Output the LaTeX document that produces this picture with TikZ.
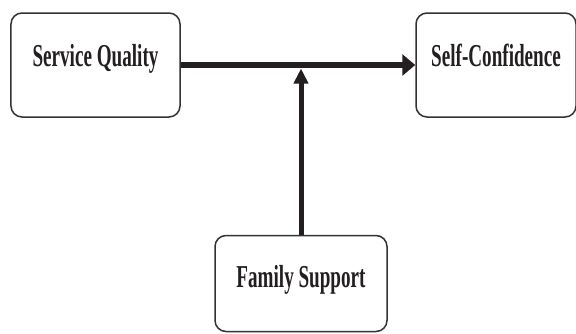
\documentclass[tikz,border=0pt]{standalone}
\usepackage{fontspec}
\setmainfont{Liberation Serif}[FakeStretch=0.6]
\usetikzlibrary{arrows.meta}
\definecolor{ink}{RGB}{35, 31, 32}
\definecolor{edge}{RGB}{50, 50, 50}

\begin{document}
\begin{tikzpicture}[x=1bp,y=-1bp,
	box/.style={draw=edge, line width=1.5bp, rounded corners=11bp, text=ink,
		font=\fontsize{32}{34}\selectfont\bfseries, inner sep=0pt,
		text height=22bp, text depth=19bp},
	link/.style={draw=ink, -{Triangle[length=13bp,width=21bp]}, line width=6.5bp},
	moder/.style={draw=ink, -{Triangle[length=15bp,width=14bp]}, line width=5bp}]
	\useasboundingbox (0,0) rectangle (576,333); % page du dessin
	\node[box, minimum width=169bp, minimum height=104bp] (quality) at (95.5,65) {Service Quality};
	\node[box, minimum width=160bp, minimum height=104bp] (confidence) at (496,65) {Self-Confidence};
	\node[box, minimum width=172bp, minimum height=96bp, text depth=14bp] (family) at (301,283.5) {Family Support};
	\draw[link] (quality.east) -- (confidence.west);
	\coordinate (meet) at (family.north |- quality.east); % point sur la fleche
	\draw[moder, shorten >=3.5bp] (family.north) -- (meet);
\end{tikzpicture}
\end{document}
